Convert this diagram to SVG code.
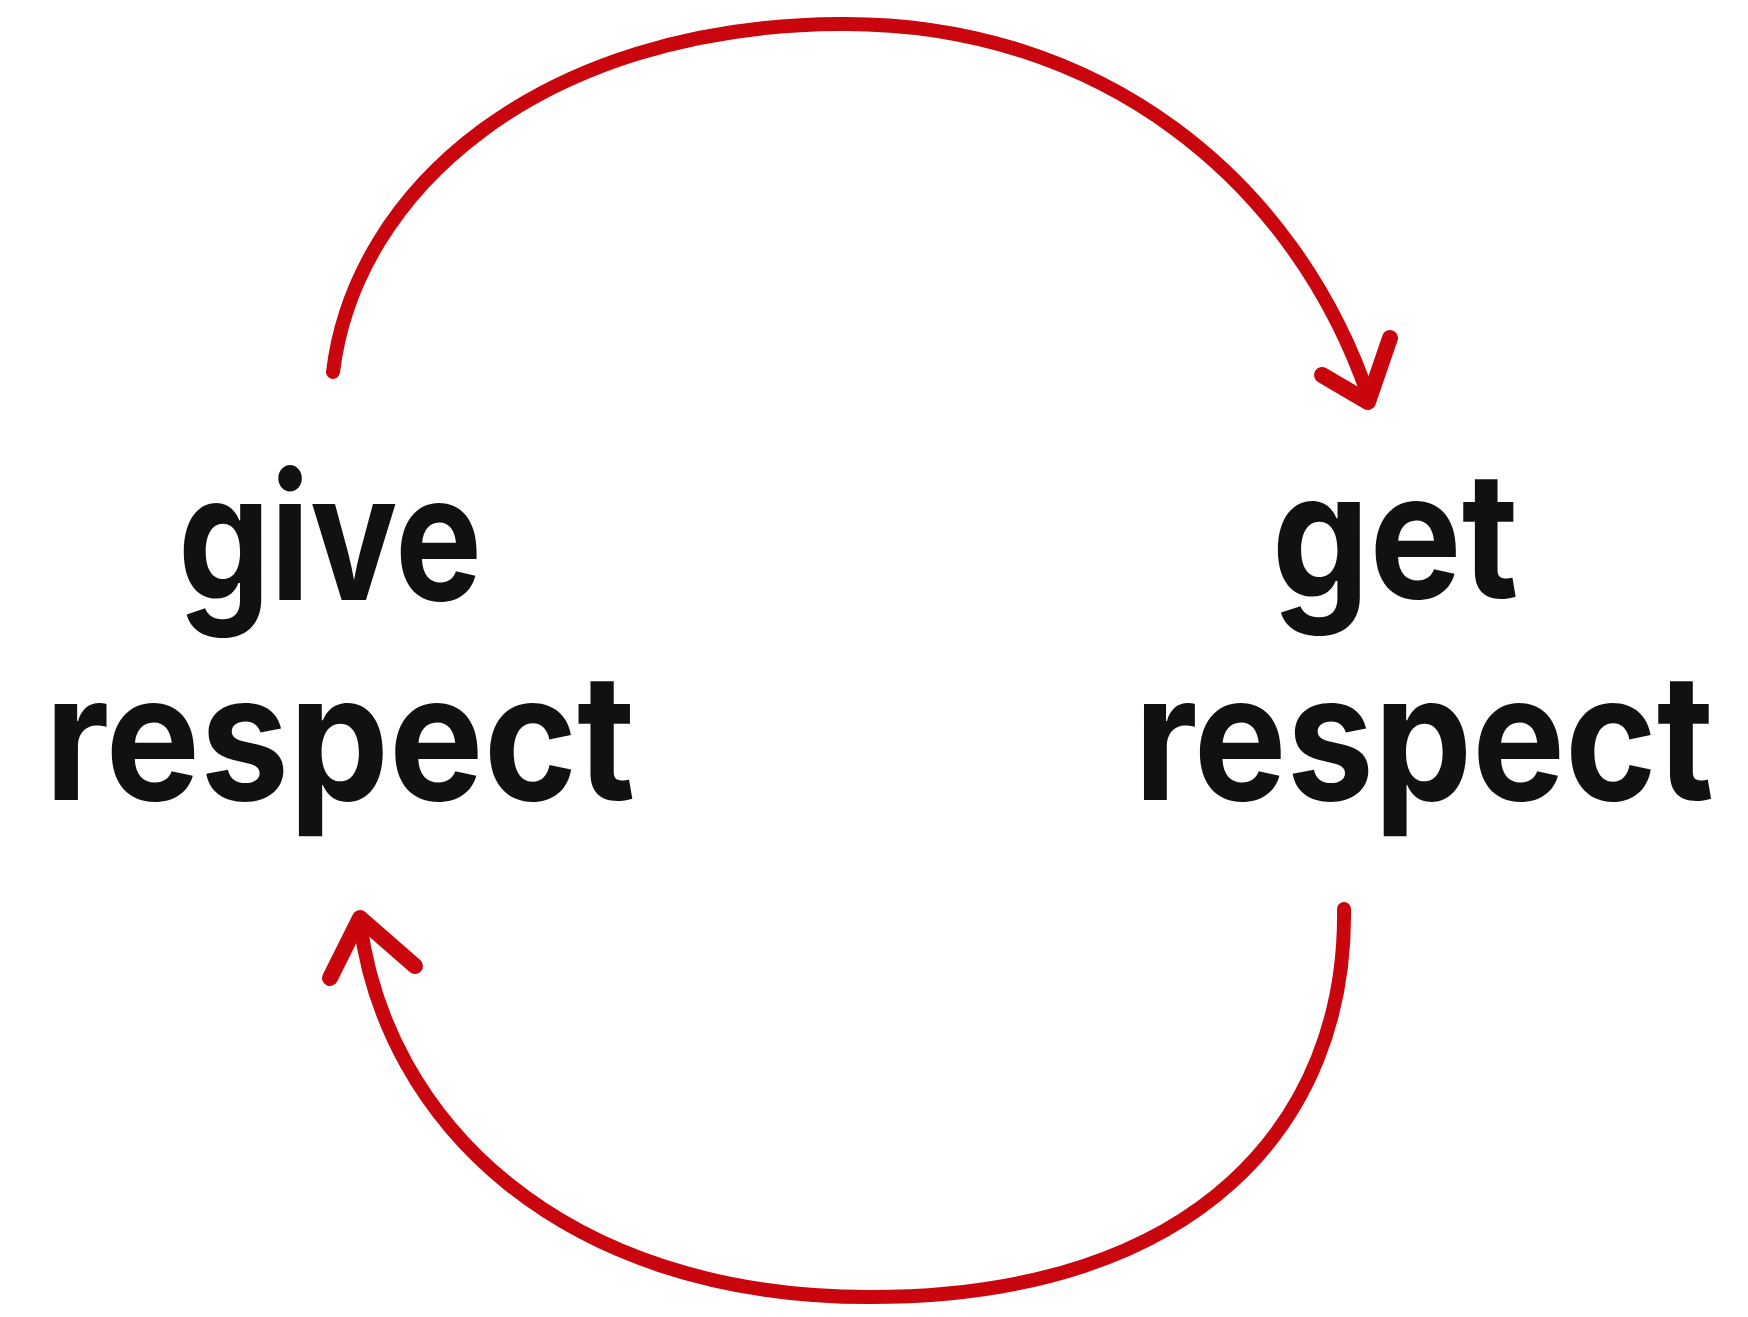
<svg xmlns="http://www.w3.org/2000/svg" width="1748" height="1317" viewBox="0 0 1748 1317">
<style>
.lbl{font-family:Inter,Roboto,"Liberation Sans",sans-serif;font-weight:700;font-size:176px;fill:#111;text-anchor:middle}
.arc{fill:none;stroke:#c9060d;stroke-width:14;stroke-linecap:round;stroke-linejoin:round}
.head{fill:none;stroke:#c9060d;stroke-width:16;stroke-linecap:round;stroke-linejoin:round}
</style>
<rect width="1748" height="1317" fill="#fff"/>
<g id="node-give">
<text class="lbl" transform="translate(330 600) scale(0.9 1)" x="0" y="0" textLength="338" lengthAdjust="spacingAndGlyphs">give</text>
<text class="lbl" transform="translate(340 800) scale(0.9 1)" x="0" y="0" textLength="656" lengthAdjust="spacingAndGlyphs">respect</text>
</g>
<g id="node-get">
<text class="lbl" transform="translate(1395 598) scale(0.9 1)" x="0" y="0" textLength="274" lengthAdjust="spacingAndGlyphs">get</text>
<text class="lbl" transform="translate(1424 800) scale(0.9 1)" x="0" y="0" textLength="644" lengthAdjust="spacingAndGlyphs">respect</text>
</g>
<g id="connectors">
<path class="arc" d="M 333 372 C 355 190, 540 26, 840 24 C 1100 22, 1295 180, 1369 398"/>
<polyline class="head" points="1322,375 1368,402 1390,338"/>
<path class="arc" d="M 1344 909 C 1347 1120, 1200 1297, 870 1297 C 560 1297, 385 1120, 360 922"/>
<polyline class="head" points="330,978 360,918 415,966"/>
</g>
</svg>
